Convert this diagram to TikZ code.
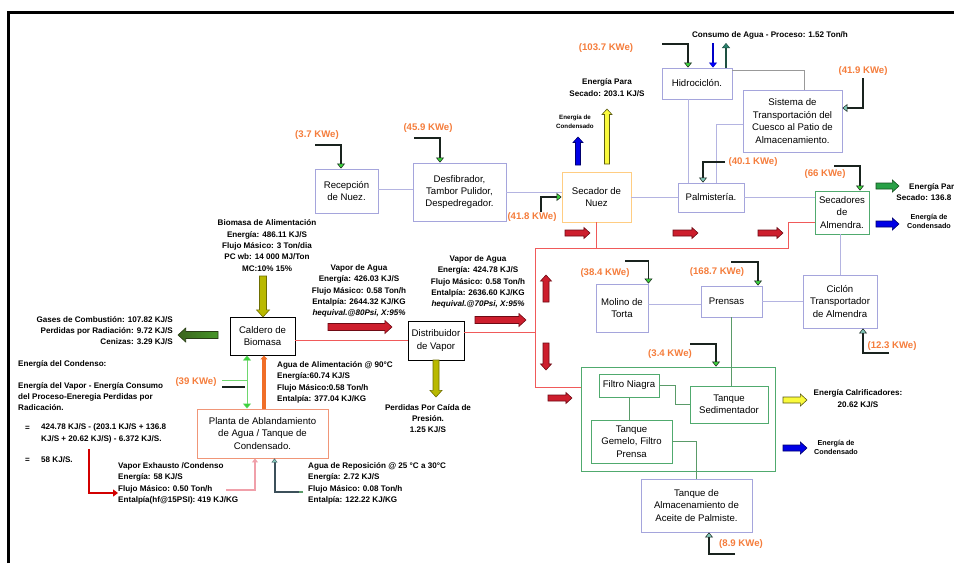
\documentclass[tikz,border=0pt]{standalone}
\usepackage{fontspec}
\setmainfont{Liberation Sans}
\usetikzlibrary{arrows.meta,calc}

\definecolor{lav}{RGB}{165,165,220}
\definecolor{lavln}{RGB}{180,180,225}
\definecolor{secbd}{RGB}{255,205,130}
\definecolor{grnbd}{RGB}{80,170,110}
\definecolor{grnln}{RGB}{90,155,105}
\definecolor{plbd}{RGB}{240,150,120}
\definecolor{redln}{RGB}{240,90,90}
\definecolor{orng}{RGB}{245,125,60}
\definecolor{feedc}{RGB}{25,35,30}
\definecolor{gtip}{RGB}{60,210,60}
\definecolor{ttip}{RGB}{130,200,185}
\definecolor{dteal}{RGB}{30,80,65}
\definecolor{tealf}{RGB}{40,130,110}
\definecolor{lgrn}{RGB}{110,215,110}
\definecolor{orarr}{RGB}{240,110,40}
\definecolor{pinkc}{RGB}{240,160,170}
\definecolor{slate}{RGB}{60,80,90}
\definecolor{redel}{RGB}{210,0,0}

\newcommand{\boxfont}{\fontsize{9.6}{12.4}\selectfont}
\newcommand{\lblfont}{\fontsize{8.1}{11.3}\selectfont\bfseries}
\newcommand{\kwefont}{\fontsize{9.6}{11}\selectfont\bfseries}
\newcommand{\smlfont}{\fontsize{7.2}{9.5}\selectfont\bfseries}
\newcommand{\tinyfont}{\fontsize{6.2}{8.8}\selectfont\bfseries}

% block arrow: #1 tail, #2 angle, #3 length, #4 shaft half width, #5 head half width, #6 style
\newcommand{\mybarr}[6]{%
  \draw[#6, shift={#1}, rotate=#2, line join=miter]
    (0,-#4) -- ({#3-1.1*#5},-#4) -- ({#3-1.1*#5},-#5) -- (#3,0)
    -- ({#3-1.1*#5},#5) -- ({#3-1.1*#5},#4) -- (0,#4) -- cycle;}

\tikzset{
  box/.style={draw=lav, line width=0.9pt, align=center, font=\boxfont, inner sep=0pt},
  lbl/.style={font=\lblfont, align=center, inner sep=0pt},
  lbll/.style={font=\lblfont, align=left, inner sep=0pt, anchor=west},
  kwe/.style={font=\kwefont, text=orng, inner sep=0pt},
  feed/.style={draw=feedc, line width=1.3pt, -{Triangle[length=5pt,width=8pt,fill=gtip,line width=0.5pt]}},
  feedt/.style={draw=feedc, line width=1.3pt, -{Triangle[length=5pt,width=8pt,fill=ttip,line width=0.5pt]}},
  lavline/.style={draw=lavln, line width=0.9pt},
  grnline/.style={draw=grnln, line width=0.9pt},
  redline/.style={draw=redln, line width=0.9pt},
  redblk/.style={fill={rgb,255:red,205;green,30;blue,45}, draw={rgb,255:red,110;green,10;blue,20}, line width=0.6pt},
  yelblk/.style={fill={rgb,255:red,250;green,250;blue,60}, draw={rgb,255:red,90;green,90;blue,20}, line width=0.6pt},
  olvblk/.style={fill={rgb,255:red,185;green,185;blue,0}, draw={rgb,255:red,110;green,110;blue,0}, line width=0.6pt},
  blublk/.style={fill={rgb,255:red,0;green,0;blue,230}, draw={rgb,255:red,0;green,0;blue,110}, line width=0.6pt},
  grnblk/.style={fill={rgb,255:red,40;green,160;blue,70}, draw={rgb,255:red,20;green,80;blue,30}, line width=0.6pt},
  dgrnblk/.style={left color={rgb,255:red,60;green,100;blue,30}, right color={rgb,255:red,70;green,150;blue,40}, draw={rgb,255:red,40;green,60;blue,20}, line width=0.6pt},
}

\begin{document}
\begin{tikzpicture}[x=1pt,y=-1pt]
\useasboundingbox (0,0) rectangle (954,563);
\fill[white] (0,0) rectangle (954,563);
% frame
\draw[line width=3pt] (8.5,563) -- (8.5,12.5) -- (954,12.5);

% ---------- boxes ----------
\node[box, minimum width=63pt, minimum height=44pt] (rec) at (346.5,191) {Recepción\\de Nuez.};
\node[box, minimum width=93pt, minimum height=58pt] (desf) at (459.5,192) {Desfibrador,\\Tambor Pulidor,\\Despedregador.};
\node[box, draw=secbd, minimum width=69pt, minimum height=50pt] (secn) at (596.5,197) {Secador de\\Nuez};
\node[box, minimum width=70pt, minimum height=31pt] (hidro) at (697,83.5) {Hidrociclón.};
\node[box, minimum width=99pt, minimum height=62pt] (sist) at (792.5,121) {Sistema de\\Transportación del\\Cuesco al Patio de\\Almacenamiento.};
\node[box, minimum width=66pt, minimum height=29pt] (palm) at (711,197.5) {Palmistería.};
\node[box, draw=grnbd, minimum width=54pt, minimum height=43pt] (seca) at (842,212.5) {Secadores\\de\\Almendra.};
\node[box, draw=black, minimum width=65pt, minimum height=38pt] (cald) at (262.5,336) {Caldero de\\Biomasa};
\node[box, draw=black, minimum width=56pt, minimum height=39pt] (dist) at (436,340.5) {Distribuidor\\de Vapor};
\node[box, draw=plbd, minimum width=131pt, minimum height=49pt] (planta) at (262.5,433.5) {Planta de Ablandamiento\\de Agua / Tanque de\\Condensado.};
\node[box, minimum width=52pt, minimum height=48pt] (molino) at (622,308) {Molino de\\Torta};
\node[box, minimum width=61pt, minimum height=31pt] (prensas) at (731.5,301.5) {Prensas\hspace*{10pt}};
\node[box, minimum width=74pt, minimum height=53pt] (ciclon) at (840,301.5) {Ciclón\\Transportador\\de Almendra};
\node[box, draw=grnbd, minimum width=194pt, minimum height=104pt] (big) at (678,419) {};
\node[box, draw=grnbd, minimum width=60pt, minimum height=23pt] (niagra) at (629,385.5) {Filtro Niagra};
\node[box, draw=grnbd, minimum width=78pt, minimum height=37pt] (sedim) at (729,404.5) {Tanque\\Sedimentador};
\node[box, draw=grnbd, minimum width=81pt, minimum height=43pt] (gemelo) at (631.5,441.5) {Tanque\\Gemelo, Filtro\\Prensa};
\node[box, minimum width=111pt, minimum height=53pt] (almac) at (696.5,505.5) {Tanque de\\Almacenamiento de\\Aceite de Palmiste.};

% ---------- plain connectors ----------
\draw[lavline] ([yshift=2pt]rec.east) -- ([yshift=2pt]rec.east -| desf.west);
\draw[lavline] (desf.east) -- (desf.east -| secn.west);
\draw[lavline] (secn.east) -- (secn.east -| palm.west);
\draw[lavline] (palm.east) -- (palm.east -| seca.west);
\draw[lavline] ([xshift=-9pt]hidro.south) -- ([xshift=-9pt]hidro.south |- palm.north);
\draw[draw=gray!80, line width=0.9pt] ([yshift=-3pt]hidro.north east) -| ([xshift=11.5pt]sist.north);
\draw[lavline] ([yshift=-3pt]sist.west) -| ([xshift=5pt]palm.north);
\draw[lavline] (seca.south -| ciclon.north) -- (ciclon.north);
\draw[lavline] ([yshift=4pt]molino.east) -- ([yshift=4pt]molino.east -| prensas.west);
\draw[lavline] (prensas.east) -- (prensas.east -| ciclon.west);
\draw[grnline] (prensas.south) -- (prensas.south |- sedim.north);
\draw[grnline] (niagra.east) -- ++(16,0) |- (sedim.west);
\draw[grnline] (niagra.south) -- (niagra.south |- gemelo.north);
\draw[grnline] (gemelo.east) -| (almac.north);

% ---------- steam network ----------
\coordinate (rtop) at (535,248);
\coordinate (rtopr) at (788,248);
\draw[redline] (dist.west -| cald.east) -- (dist.west);
\draw[redline] ([yshift=8.5pt]dist.east) -- ([yshift=8.5pt]dist.east -| rtop);
\draw[redline] (secn.south) -- (secn.south |- rtop);
\draw[redline] (rtop) -- (rtopr) |- ([yshift=-9.5pt]seca.west);
\draw[redline] (rtop) |- ([yshift=32pt]big.west);

% ---------- power feed arrows ----------
\coordinate (f1) at (315,145);
\draw[feed] (f1) -| ([xshift=-5.5pt]rec.north);
\coordinate (f2) at (414,138);
\draw[feed] (f2) -| ([xshift=-19.5pt]desf.north);
\coordinate (f3) at (541,212);
\draw[feed] (f3) |- (secn.west);
\coordinate (f4) at (662,44);
\draw[feed] (f4) -| ([xshift=-9pt]hidro.north);
\coordinate (f5) at (863,78);
\draw[feedt] (f5) |- ([yshift=13pt]sist.east);
\coordinate (f6) at (725,162);
\draw[feedt] (f6) -| ([xshift=-8pt]palm.north);
\coordinate (f7) at (834,166);
\draw[feed] (f7) -| ([xshift=18pt]seca.north);
\coordinate (f8) at (625,261);
\draw[feed] (f8) -| (molino.north east);
\coordinate (f9) at (731,262);
\draw[feed] (f9) -| ([xshift=26.5pt]prensas.north);
\coordinate (f10) at (690,344);
\draw[feed] (f10) -| ([xshift=38pt]big.north);
\coordinate (f11) at (889,353);
\draw[feedt] (f11) -| ([xshift=23pt]ciclon.south);
\coordinate (f12) at (735,554);
\draw[feedt] (f12) -| ([xshift=12.5pt]almac.south);

% water in/out of hidrociclon
\coordinate (wb) at (713,43);
\draw[draw={rgb,255:red,0;green,0;blue,200}, line width=1.3pt, -{Triangle[length=5pt,width=8pt,fill=blue,line width=0.5pt]}] (wb) -- ([xshift=16pt]hidro.north);
\coordinate (wt) at (726,43);
\draw[draw=dteal, line width=1.3pt, -{Triangle[length=5pt,width=8pt,fill=tealf,line width=0.5pt]}] ([xshift=29pt]hidro.north) -- (wt);

% boiler feed arrows
\coordinate (cg) at ([xshift=-15.5pt]cald.south);
\coordinate (pg) at ([xshift=-15.5pt]planta.north);
\coordinate (g1) at (222,380);
\coordinate (g2) at (222,387);
\draw[draw=lgrn, line width=0.9pt] (g1) -- (g1 -| cg);
\draw[draw=feedc, line width=1.3pt] (g2) -- ++(23,0);
\draw[draw=lgrn, line width=0.9pt, {Triangle[length=5pt,width=8pt,fill=gtip,line width=0.4pt]}-{Triangle[length=5pt,width=8pt,fill=gtip,line width=0.4pt]}] (cg) -- (pg);
\draw[draw=orarr, line width=4pt, -{Triangle[length=4pt,width=7pt]}] ([xshift=1.5pt]planta.north) -- ([xshift=1.5pt]cald.south);

\coordinate (pk) at (226,490);
\draw[draw=pinkc, line width=2pt, -{Triangle[length=4pt,width=6pt]}] (pk) -| ([xshift=-7.5pt]planta.south);
\coordinate (sl) at (303,492);
\draw[draw=slate, line width=2pt, -{Triangle[length=4pt,width=6pt,fill=ttip,line width=0.4pt]}] (sl) -| ([xshift=12pt]planta.south);
\draw[draw=grnln, line width=2pt] (sl) -- ++(-4,0);

\coordinate (re1) at (89,449);
\coordinate (re2) at (118,493);
\draw[draw=redel, line width=2.5pt, -{Triangle[length=5pt,width=7pt]}] (re1) |- (re2);

% ---------- block arrows ----------
\mybarr{(263,276)}{-90}{41}{3.5}{6.5}{olvblk}
\mybarr{(218,335)}{180}{40}{3.5}{7}{dgrnblk}
\mybarr{(328,327)}{0}{64}{3.5}{6.5}{redblk}
\mybarr{(475,320)}{0}{51}{3.5}{6.5}{redblk}
\mybarr{(546,302)}{90}{27}{3}{5.5}{redblk}
\mybarr{(546,343)}{-90}{27}{3}{5.5}{redblk}
\mybarr{(548,398)}{0}{24}{3}{5.5}{redblk}
\mybarr{(565,233)}{0}{25}{3}{5.5}{redblk}
\mybarr{(673,233)}{0}{25}{3}{5.5}{redblk}
\mybarr{(758,233)}{0}{25}{3}{5.5}{redblk}
\mybarr{(436,360)}{-90}{37}{3}{6}{olvblk}
\mybarr{(578,165)}{90}{28}{2.5}{5}{blublk}
\mybarr{(607,164)}{90}{55}{2.5}{5}{yelblk}
\mybarr{(876,186)}{0}{23}{3}{6}{grnblk}
\mybarr{(876,224)}{0}{23}{3}{6}{blublk}
\mybarr{(783,400)}{0}{24}{3}{6}{yelblk}
\mybarr{(783,448)}{0}{24}{3}{6}{blublk}

% ---------- KWe labels ----------
\node[kwe] (k1) at (317,135) {(3.7 KWe)};
\node[kwe] (k2) at (428,128) {(45.9 KWe)};
\node[kwe] (k3) at (532,217) {(41.8 KWe)};
\node[kwe] (k4) at (606,48) {(103.7 KWe)};
\node[kwe] (k5) at (863,71) {(41.9 KWe)};
\node[kwe] (k6) at (753,162) {(40.1 KWe)};
\node[kwe] (k7) at (825,174) {(66 KWe)};
\node[kwe] (k8) at (605,273) {(38.4 KWe)};
\node[kwe] (k9) at (717,272) {(168.7 KWe)};
\node[kwe] (k10) at (892,346) {(12.3 KWe)};
\node[kwe] (k11) at (670,354) {(3.4 KWe)};
\node[kwe] (k12) at (741,544) {(8.9 KWe)};
\node[kwe] (k13) at (196,382) {(39 KWe)};

% ---------- text labels ----------
\node[lbl] (tc) at (770,35) {Consumo de Agua - Proceso: 1.52 Ton/h};
\node[lbl] (ts1) at (607,87.5) {Energía Para\\Secado: 203.1 KJ/S};
\node[lbl, font=\tinyfont] (tco1) at (575,121.5) {Energía de\\Condensado};
\node[lbl] (ts2) at (934,192) {Energía Para\\Secado: 136.8 KJ/S};
\node[lbl, font=\smlfont] (tco2) at (929,221.5) {Energía de\\Condensado};
\node[lbl] (tcl) at (858,398.5) {Energía Calrificadores:\\20.62 KJ/S};
\node[lbl, font=\smlfont] (tco3) at (836,447.5) {Energía de\\Condensado};
\node[lbl] (tbio) at (267,245.5) {Biomasa de Alimentación\\Energía: 486.11 KJ/S\\Flujo Másico: 3 Ton/dia\\PC wb: 14 000 MJ/Ton\\MC:10\% 15\%};
\node[lbl, align=right, anchor=east] (tgas) at (173,330.5) {Gases de Combustión: 107.82 KJ/S\\Perdidas por Radiación: 9.72 KJ/S\\Cenizas: 3.29 KJ/S};
\node[lbl] (tv1) at (359,291) {Vapor de Agua\\Energía: 426.03 KJ/S\\Flujo Másico: 0.58 Ton/h\\Entalpía: 2644.32 KJ/KG\\\textit{hequival.@80Psi, X:95\%}};
\node[lbl] (tv2) at (478,282) {Vapor de Agua\\Energía: 424.78 KJ/S\\Flujo Másico: 0.58 Ton/h\\Entalpía: 2636.60 KJ/KG\\\textit{hequival.@70Psi, X:95\%}};
\node[lbll] (tal) at (277,382.5) {Agua de Alimentación @ 90°C\\Energía:60.74 KJ/S\\Flujo Másico:0.58 Ton/h\\Entalpía: 377.04 KJ/KG};
\node[lbl] (tper) at (428,418.5) {Perdidas Por Caída de\\Presión.\\1.25 KJ/S};
\node[lbll] (tex) at (118,483.5) {Vapor Exhausto /Condenso\\Energía: 58 KJ/S\\Flujo Másico: 0.50 Ton/h\\Entalpía(hf@15PSI): 419 KJ/KG};
\node[lbll] (trep) at (308,483.5) {Agua de Reposición @ 25 °C a 30°C\\Energía: 2.72 KJ/S\\Flujo Másico: 0.08 Ton/h\\Entalpía: 122.22 KJ/KG};
\node[lbll] (tec) at (18,364) {Energía del Condenso:};
\node[lbll] (tev) at (18,396.5) {Energía del Vapor - Energía Consumo\\del Proceso-Eneregia Perdidas por\\Radicación.};
\node[lbll] (teq1) at (25,428) {=};
\node[lbll] (tr1) at (41,433.5) {424.78 KJ/S - (203.1 KJ/S + 136.8\\KJ/S + 20.62 KJ/S) - 6.372 KJ/S.};
\node[lbll] (teq2) at (25,460) {=};
\node[lbll] (tr2) at (41,460) {58 KJ/S.};
\end{tikzpicture}
\end{document}
